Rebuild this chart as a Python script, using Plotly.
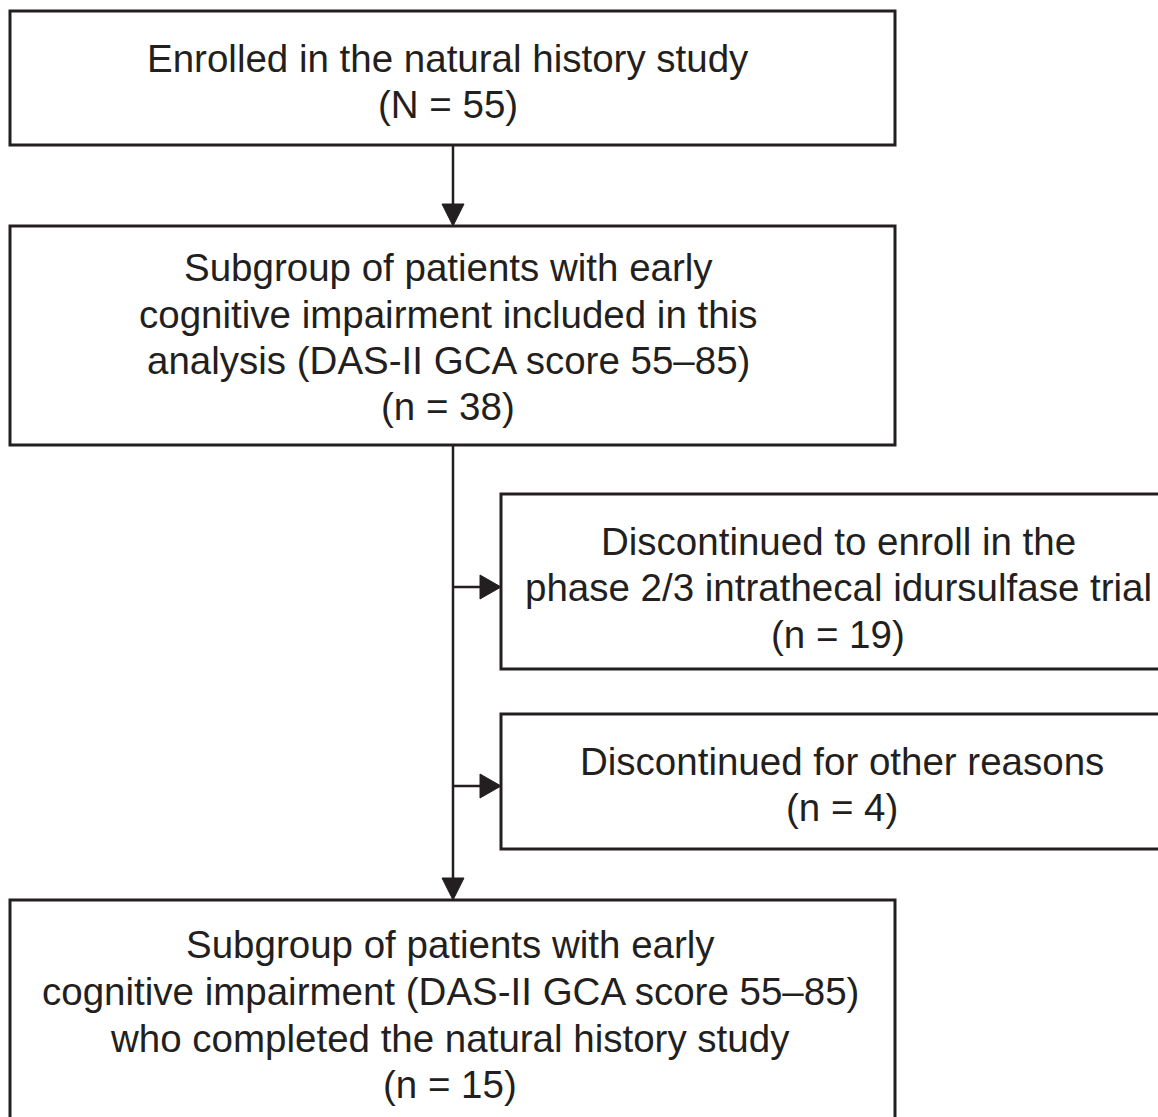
import plotly.graph_objects as go

W, H = 1158, 1117
INK = "#231f20"
FONT = "Liberation Sans, Arial, sans-serif"
FS = 38.5

# Box contents (text lines) and counts
box1_lines = ["Enrolled in the natural history study", "(N = 55)"]
box2_lines = ["Subgroup of patients with early",
              "cognitive impairment included in this",
              "analysis (DAS-II GCA score 55\u201385)",
              "(n = 38)"]
box3_lines = ["Discontinued to enroll in the",
              "phase 2/3 intrathecal idursulfase trial",
              "(n = 19)"]
box4_lines = ["Discontinued for other reasons", "(n = 4)"]
box5_lines = ["Subgroup of patients with early",
              "cognitive impairment (DAS-II GCA score 55\u201385)",
              "who completed the natural history study",
              "(n = 15)"]

# Layout geometry (pixels, y downward)
boxes = [
    dict(x0=10, x1=895, y0=11, y1=145, lines=box1_lines, cx=448, ys=[58, 104]),
    dict(x0=10, x1=895, y0=226, y1=445, lines=box2_lines, cx=448, ys=[267, 314, 360, 406]),
    dict(x0=501, x1=1175, y0=494, y1=669, lines=box3_lines, cx=838, ys=[541, 587, 634]),
    dict(x0=501, x1=1175, y0=714, y1=849, lines=box4_lines, cx=842, ys=[761, 807]),
    dict(x0=10, x1=895, y0=900, y1=1140, lines=box5_lines, cx=450, ys=[944, 991, 1038, 1084]),
]

fig = go.Figure()
fig.add_trace(go.Scatter(x=[0, W], y=[0, H], mode="markers",
                         marker=dict(opacity=0), hoverinfo="skip", showlegend=False))

shapes = []
annotations = []
for b in boxes:
    shapes.append(dict(type="rect", xref="x", yref="y", x0=b["x0"], x1=b["x1"],
                       y0=b["y0"], y1=b["y1"], line=dict(color=INK, width=3),
                       fillcolor="rgba(0,0,0,0)", layer="above"))
    for t, yy in zip(b["lines"], b["ys"]):
        annotations.append(dict(x=b["cx"], y=yy, xref="x", yref="y", text=t,
                                showarrow=False, xanchor="center", yanchor="middle",
                                font=dict(family=FONT, size=FS, color=INK)))

SX = 453
LW = 2.5
# vertical connectors
shapes.append(dict(type="line", xref="x", yref="y", x0=SX, x1=SX, y0=145, y1=205,
                   line=dict(color=INK, width=LW)))
shapes.append(dict(type="line", xref="x", yref="y", x0=SX, x1=SX, y0=445, y1=880,
                   line=dict(color=INK, width=LW)))
# horizontal connectors
for yy in (587, 786):
    shapes.append(dict(type="line", xref="x", yref="y", x0=SX, x1=482, y0=yy, y1=yy,
                       line=dict(color=INK, width=LW)))
    shapes.append(dict(type="path", xref="x", yref="y",
                       path=f"M 480 {yy-12} L 501 {yy} L 480 {yy+12} Z",
                       fillcolor=INK, line=dict(color=INK, width=1)))
# down arrowheads
for tip in (226, 900):
    shapes.append(dict(type="path", xref="x", yref="y",
                       path=f"M {SX-11} {tip-22} L {SX} {tip} L {SX+11} {tip-22} Z",
                       fillcolor=INK, line=dict(color=INK, width=1)))

fig.update_layout(
    width=W, height=H,
    margin=dict(l=0, r=0, t=0, b=0),
    paper_bgcolor="white", plot_bgcolor="white",
    xaxis=dict(range=[0, W], visible=False, fixedrange=True),
    yaxis=dict(range=[H, 0], visible=False, fixedrange=True),
    shapes=shapes, annotations=annotations, showlegend=False,
)
fig.write_html("out.html", config={"displayModeBar": False},
               post_script="document.body.style.margin='0';document.body.style.overflow='hidden';")
